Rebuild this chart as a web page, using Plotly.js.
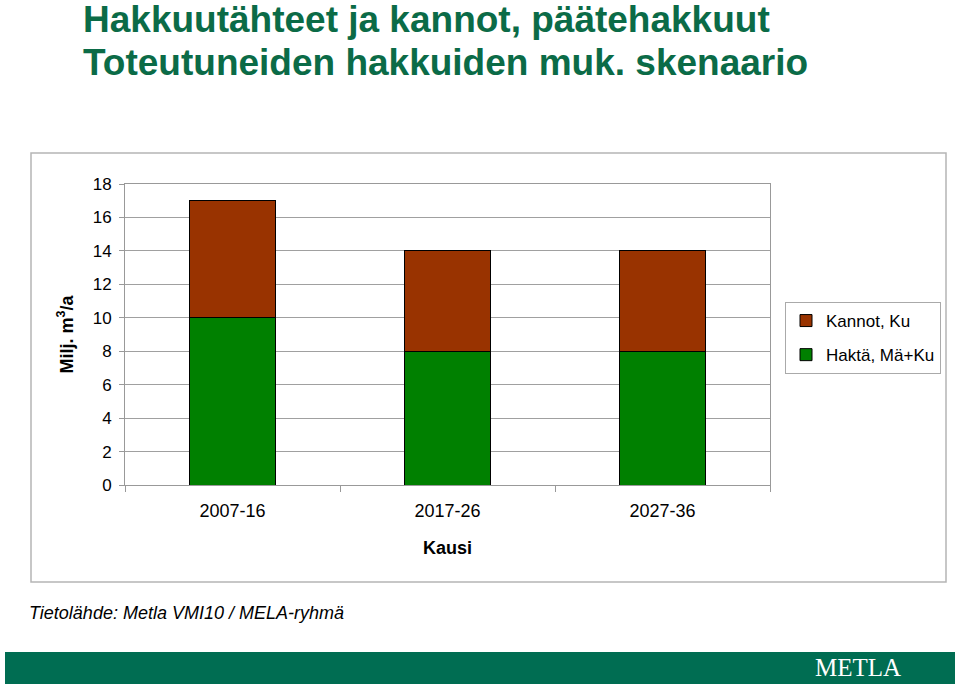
<!DOCTYPE html>
<html>
<head>
<meta charset="utf-8">
<script src="https://cdn.plot.ly/plotly-3.0.1.min.js"></script>
<style>
html,body{margin:0;padding:0;background:#fff;}
#chart{width:960px;height:686px;}
</style>
</head>
<body>
<div id="chart"></div>
<script>
var categories = ["2007-16", "2017-26", "2027-36"];
var hakta = [10, 8, 8];     // Haktä, Mä+Ku
var kannot = [7, 6, 6];     // Kannot, Ku
var seriesNames = ["Haktä, Mä+Ku", "Kannot, Ku"];
var yTicks = [0, 2, 4, 6, 8, 10, 12, 14, 16, 18];
var titleLines = ["Hakkuutähteet ja kannot, päätehakkuut", "Toteutuneiden hakkuiden muk. skenaario"];

var font = "Liberation Sans, Arial, sans-serif";
var traces = [
  {type: "bar", name: seriesNames[0], x: categories, y: hakta, legendgroup: "a", legendrank: 2,
   marker: {color: "#008000", line: {color: "#000", width: 1}}, width: 0.4},
  {type: "bar", name: seriesNames[1], x: categories, y: kannot, legendgroup: "b", legendrank: 1,
   marker: {color: "#993300", line: {color: "#000", width: 1}}, width: 0.4}
];

function py(pix) { return (485 - pix) / 301; }
function px(pix) { return (pix - 125) / 645; }

var layout = {
  width: 960, height: 686,
  paper_bgcolor: "#fff", plot_bgcolor: "#fff",
  margin: {l: 125, r: 190, t: 184, b: 201},
  barmode: "stack",
  showlegend: true,
  font: {family: font, size: 16, color: "#000"},
  xaxis: {
    type: "category",
    tickson: "boundaries", ticks: "outside", ticklen: 6, tickcolor: "#999",
    showline: true, linecolor: "#999", mirror: true,
    showgrid: false,
    tickfont: {family: font, size: 18},
    ticklabelstandoff: 9,
    title: {text: "Kausi", font: {family: font, size: 18, weight: "bold"}, standoff: 21}
  },
  yaxis: {
    range: [0, 18], tickvals: yTicks, ticks: "outside", ticklen: 5, tickcolor: "#999",
    showline: true, linecolor: "#999", mirror: true,
    showgrid: true, gridcolor: "#a0a0a0", gridwidth: 1,
    zeroline: false,
    tickfont: {family: font, size: 17},
    ticklabelstandoff: 4,
    title: {text: "Milj. m<sup>3</sup>/a", font: {family: font, size: 18, weight: "bold"}, standoff: 14}
  },
  legend: {
    x: px(785), xanchor: "left", y: py(302), yanchor: "top",
    traceorder: "grouped", tracegroupgap: 9,
    bordercolor: "#aaa", borderwidth: 1, bgcolor: "#fff",
    font: {family: font, size: 17},
    itemwidth: 30
  },
  shapes: [
    {type: "rect", xref: "paper", yref: "paper",
     x0: px(31), x1: px(946), y0: py(582), y1: py(153),
     line: {color: "#b5b5b5", width: 1.5}, fillcolor: "rgba(0,0,0,0)", layer: "below"},
    {type: "rect", xref: "paper", yref: "paper",
     x0: px(5), x1: px(955), y0: py(684), y1: py(652),
     line: {width: 0}, fillcolor: "#006d52", layer: "below"}
  ],
  annotations: [
    {text: "<b>" + titleLines[0] + "</b>", xref: "paper", yref: "paper",
     x: px(81), xanchor: "left", y: py(19), yanchor: "middle", showarrow: false,
     font: {family: font, size: 37, color: "#0b6b47"}},
    {text: "<b>" + titleLines[1] + "</b>", xref: "paper", yref: "paper",
     x: px(81), xanchor: "left", y: py(62), yanchor: "middle", showarrow: false,
     font: {family: font, size: 37, color: "#0b6b47"}},
    {text: "<i>Tietolähde: Metla VMI10 / MELA-ryhmä</i>", xref: "paper", yref: "paper",
     x: px(27), xanchor: "left", y: py(613), yanchor: "middle", showarrow: false,
     font: {family: font, size: 18, color: "#000"}},
    {text: "METLA", xref: "paper", yref: "paper",
     x: px(858), xanchor: "center", y: py(667), yanchor: "middle", showarrow: false,
     font: {family: "Liberation Serif, Times New Roman, serif", size: 25, color: "#fff"}}
  ]
};

Plotly.newPlot("chart", traces, layout, {displayModeBar: false, staticPlot: true});
</script>
</body>
</html>
